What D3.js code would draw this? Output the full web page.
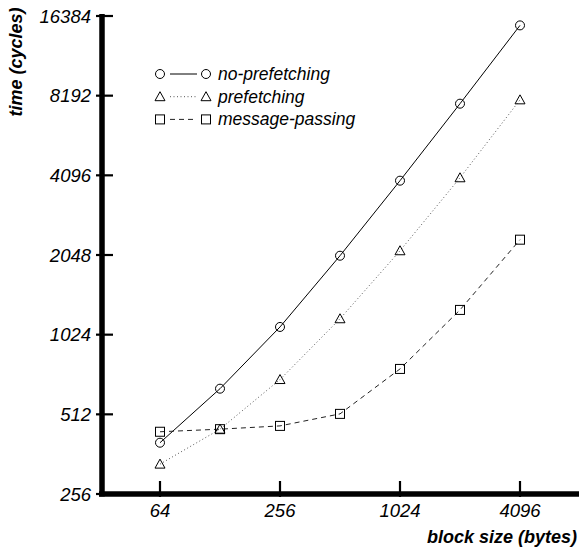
<!DOCTYPE html>
<html>
<head>
<meta charset="utf-8">
<script src="https://cdn.jsdelivr.net/npm/d3@7"></script>
<style>
  body { margin: 0; background: #fff; }
  text { font-family: "Liberation Sans", Arial, sans-serif; font-style: italic; fill: #000; }
</style>
</head>
<body>
<div id="vis"></div>
<script>
// block sizes (bytes) and timings (cycles)
var blockSizes = [64, 128, 256, 512, 1024, 2048, 4096];
var noPrefetching = [400, 640, 1095, 2035, 3910, 7640, 15100];
var prefetching = [332, 450, 693, 1176, 2125, 4010, 7900];
var messagePassing = [440, 450, 463, 514, 760, 1270, 2340];
var xTicks = [64, 256, 1024, 4096];
var yTicks = [256, 512, 1024, 2048, 4096, 8192, 16384];

var series = [
  { name: "no-prefetching", values: noPrefetching, marker: "circle", dash: null, color: "#000" },
  { name: "prefetching", values: prefetching, marker: "triangle", dash: "1,2.5", color: "#555" },
  { name: "message-passing", values: messagePassing, marker: "square", dash: "5,4", color: "#222" }
];

var width = 579, height = 548;

var svg = d3.select("#vis").append("svg")
  .attr("width", width)
  .attr("height", height);

var x = d3.scaleLog().base(2).domain([32, 8192]).range([100, 580]);
var y = d3.scaleLog().base(2).domain([256, 16384]).range([494, 16]);

// axes: thick black lines
svg.append("line")
  .attr("x1", 102).attr("x2", 102)
  .attr("y1", y(16384) - 2).attr("y2", y(256) + 2.5)
  .attr("stroke", "#000").attr("stroke-width", 5.5);
svg.append("line")
  .attr("x1", 99).attr("x2", width)
  .attr("y1", 494).attr("y2", 494)
  .attr("stroke", "#000").attr("stroke-width", 5.5);

// y ticks
svg.selectAll(".ytick").data(yTicks).enter().append("line")
  .attr("x1", 96).attr("x2", 113)
  .attr("y1", function(d) { return y(d); })
  .attr("y2", function(d) { return y(d); })
  .attr("stroke", "#000").attr("stroke-width", 2.2);
svg.selectAll(".ylab").data(yTicks).enter().append("text")
  .attr("x", 91)
  .attr("y", function(d) { return y(d) + 6.5; })
  .attr("text-anchor", "end")
  .style("font-size", "18.5px")
  .text(function(d) { return d; });

// x ticks
svg.selectAll(".xtick").data(xTicks).enter().append("line")
  .attr("x1", function(d) { return x(d); })
  .attr("x2", function(d) { return x(d); })
  .attr("y1", 481).attr("y2", 497)
  .attr("stroke", "#000").attr("stroke-width", 2.2);
svg.selectAll(".xlab").data(xTicks).enter().append("text")
  .attr("x", function(d) { return x(d); })
  .attr("y", 517)
  .attr("text-anchor", "middle")
  .style("font-size", "18.5px")
  .text(function(d) { return d; });

// axis titles
svg.append("text")
  .attr("x", 577).attr("y", 543)
  .attr("text-anchor", "end")
  .style("font-size", "18px").style("font-weight", "bold")
  .text("block size (bytes)");
svg.append("text")
  .attr("transform", "translate(22,62) rotate(-90)")
  .attr("text-anchor", "middle")
  .style("font-size", "18px").style("font-weight", "bold")
  .text("time (cycles)");

function drawMarker(g, type, cx, cy) {
  if (type == "circle") {
    g.append("circle").attr("cx", cx).attr("cy", cy).attr("r", 4.5)
      .attr("fill", "none").attr("stroke", "#000").attr("stroke-width", 1);
  } else if (type == "triangle") {
    g.append("path")
      .attr("d", "M" + cx + "," + (cy - 5) + "L" + (cx + 5) + "," + (cy + 4) + "L" + (cx - 5) + "," + (cy + 4) + "Z")
      .attr("fill", "none").attr("stroke", "#000").attr("stroke-width", 1);
  } else {
    g.append("rect").attr("x", cx - 4.5).attr("y", cy - 4.5).attr("width", 9).attr("height", 9)
      .attr("fill", "none").attr("stroke", "#000").attr("stroke-width", 1);
  }
}

var line = d3.line()
  .x(function(d, i) { return x(blockSizes[i]); })
  .y(function(d) { return y(d); });

series.forEach(function(s, k) {
  var g = svg.append("g");
  g.append("path")
    .datum(s.values)
    .attr("d", line)
    .attr("fill", "none")
    .attr("stroke", s.color)
    .attr("stroke-width", 1)
    .attr("stroke-dasharray", s.dash);
  s.values.forEach(function(v, i) {
    drawMarker(g, s.marker, x(blockSizes[i]), y(v));
  });

  // legend row
  var ly = 74 + k * 22.7;
  var lg = svg.append("g");
  lg.append("line")
    .attr("x1", 170).attr("x2", 197)
    .attr("y1", ly).attr("y2", ly)
    .attr("stroke", s.color)
    .attr("stroke-width", 1)
    .attr("stroke-dasharray", s.dash);
  drawMarker(lg, s.marker, 160, ly);
  drawMarker(lg, s.marker, 206, ly);
  lg.append("text")
    .attr("x", 218).attr("y", ly + 6)
    .style("font-size", "17.5px")
    .text(s.name);
});
</script>
</body>
</html>
